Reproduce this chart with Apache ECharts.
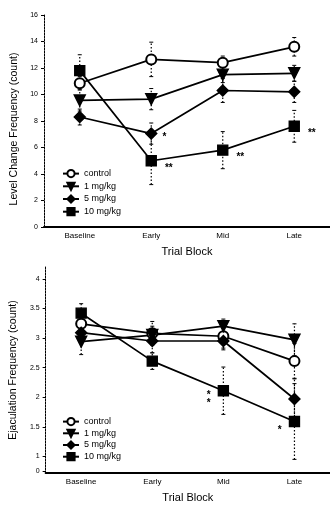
<!DOCTYPE html>
<html>
<head>
<meta charset="utf-8">
<script src="https://cdn.jsdelivr.net/npm/echarts@6/dist/echarts.min.js"></script>
<style>
  html, body { margin: 0; padding: 0; background: #fff; }
  #main { width: 330px; height: 507px; }
</style>
</head>
<body>
<div id="main"></div>
<script>
// categories and groups
var blocks = ['Baseline', 'Early', 'Mid', 'Late'];
var groups = ['control', '1 mg/kg', '5 mg/kg', '10 mg/kg'];

// level change frequency (means, sem)
var lcControl = [10.85, 12.65, 12.4, 13.6];
var lc1mg = [9.55, 9.65, 11.5, 11.6];
var lc5mg = [8.3, 7.05, 10.3, 10.2];
var lc10mg = [11.8, 5.0, 5.8, 7.6];
var lcControlErr = [0.5, 1.3, 0.5, 0.7];
var lc1mgErr = [0.8, 0.8, 0.6, 0.6];
var lc5mgErr = [0.6, 0.8, 0.9, 0.8];
var lc10mgErr = [1.2, 1.8, 1.4, 1.2];
var lcSig5mg = ['', '*', '', ''];
var lcSig10mg = ['', '**', '**', '**'];
var lcTicks = [0, 2, 4, 6, 8, 10, 12, 14, 16];

// ejaculation frequency (means, sem)
var ejControl = [3.24, 3.08, 3.03, 2.61];
var ej1mg = [2.94, 3.05, 3.2, 2.97];
var ej5mg = [3.09, 2.95, 2.95, 1.97];
var ej10mg = [3.42, 2.61, 2.11, 1.59];
var ejControlErr = [0.15, 0.2, 0.2, 0.3];
var ej1mgErr = [0.22, 0.15, 0.12, 0.27];
var ej5mgErr = [0.15, 0.2, 0.15, 0.35];
var ej10mgErr = [0.16, 0.14, 0.4, 0.64];
var ejSig10mg = ['', '', '*\n*', '*'];
var ejTicks = [0.75, 1, 1.5, 2, 2.5, 3, 3.5, 4];
var ejTickText = ['0', '1', '1.5', '2', '2.5', '3', '3.5', '4'];

var font = 'Liberation Sans';
var symbols = ['emptyCircle', 'path://M0,0 L10,0 L5,10 Z', 'diamond', 'rect'];
var symbolSizes = [10, 11, 11, 10];

function lineSeries(name, idx, values, sig, sigPos, sigOffset, gi) {
  return {
    name: name,
    type: 'line',
    xAxisIndex: gi,
    yAxisIndex: gi,
    symbol: symbols[idx],
    symbolSize: symbolSizes[idx],
    z: 3,
    itemStyle: { color: '#000', borderColor: '#000', borderWidth: 1.4 },
    lineStyle: { color: '#000', width: 1.7 },
    data: values.map(function (v, i) {
      var s = sig ? sig[i] : '';
      return {
        value: v,
        label: {
          show: !!s,
          formatter: s,
          position: sigPos,
          offset: sigOffset,
          color: '#000',
          fontSize: 10,
          fontWeight: 'bold',
          lineHeight: 8
        }
      };
    })
  };
}

function errSeries(values, errs, gi) {
  return {
    type: 'custom',
    xAxisIndex: gi,
    yAxisIndex: gi,
    z: 2,
    silent: true,
    data: values.map(function (v, i) { return [i, v - errs[i], v + errs[i]]; }),
    renderItem: function (params, api) {
      var lo = api.coord([api.value(0), api.value(1)]);
      var hi = api.coord([api.value(0), api.value(2)]);
      var st = { stroke: '#000', lineWidth: 1 };
      return {
        type: 'group',
        children: [
          { type: 'line', shape: { x1: lo[0], y1: lo[1], x2: hi[0], y2: hi[1] },
            style: { stroke: '#000', lineWidth: 1.2, lineDash: [1.5, 2] } },
          { type: 'line', shape: { x1: hi[0] - 2, y1: hi[1], x2: hi[0] + 2, y2: hi[1] }, style: st },
          { type: 'line', shape: { x1: lo[0] - 2, y1: lo[1], x2: lo[0] + 2, y2: lo[1] }, style: st }
        ]
      };
    }
  };
}

var xAxisBase = {
  type: 'category',
  data: blocks,
  boundaryGap: true,
  name: 'Trial Block',
  nameLocation: 'middle',
  nameGap: 19,
  nameTextStyle: { fontFamily: font, fontSize: 11, color: '#000' },
  axisLine: { lineStyle: { color: '#000', width: 2 } },
  axisTick: { show: false },
  axisLabel: { fontFamily: font, fontSize: 8, color: '#000', margin: 5 }
};

var legendBase = {
  data: groups, orient: 'vertical', left: 57,
  itemWidth: 16, itemHeight: 9,
  textStyle: { fontFamily: font, fontSize: 9, color: '#000' }
};

var chart = echarts.init(document.getElementById('main'));
chart.setOption({
  animation: false,
  backgroundColor: '#fff',
  grid: [
    { left: 44, right: -3, top: 15, height: 212 },
    { left: 44, right: -3, top: 267, height: 206 }
  ],
  legend: [
    Object.assign({ top: 164, itemGap: 3.5 }, legendBase),
    Object.assign({ top: 412, itemGap: 2.5 }, legendBase)
  ],
  xAxis: [
    Object.assign({ gridIndex: 0 }, xAxisBase),
    Object.assign({ gridIndex: 1 }, xAxisBase)
  ],
  yAxis: [
    {
      gridIndex: 0, type: 'value', min: 0, max: 16, interval: 2,
      name: 'Level Change Frequency (count)',
      nameLocation: 'middle', nameGap: 24,
      nameTextStyle: { fontFamily: font, fontSize: 10.5, color: '#000', padding: [0, 16, 0, 0] },
      axisLine: { show: true, lineStyle: { color: '#000', width: 1, type: [2, 1] } },
      axisTick: { show: true, length: 3, lineStyle: { color: '#000' } },
      splitLine: { show: false },
      axisLabel: { fontFamily: font, fontSize: 7, color: '#000', margin: 6,
        customValues: lcTicks }
    },
    {
      gridIndex: 1, type: 'value', min: 0.72, max: 4.2,
      name: 'Ejaculation Frequency (count)',
      nameLocation: 'middle', nameGap: 24,
      nameTextStyle: { fontFamily: font, fontSize: 10.5, color: '#000' },
      axisLine: { show: true, lineStyle: { color: '#000', width: 1, type: [2, 1] } },
      axisTick: { show: true, length: 3, lineStyle: { color: '#000' }, customValues: ejTicks },
      splitLine: { show: false },
      axisLabel: {
        fontFamily: font, fontSize: 7, color: '#000', margin: 6,
        showMinLabel: true, hideOverlap: false,
        customValues: ejTicks,
        formatter: function (v) {
          var i = ejTicks.indexOf(v);
          return i >= 0 ? ejTickText[i] : '';
        }
      }
    }
  ],
  series: [
    errSeries(lcControl, lcControlErr, 0),
    errSeries(lc1mg, lc1mgErr, 0),
    errSeries(lc5mg, lc5mgErr, 0),
    errSeries(lc10mg, lc10mgErr, 0),
    lineSeries(groups[0], 0, lcControl, null, 'right', [0, 0], 0),
    lineSeries(groups[1], 1, lc1mg, null, 'right', [0, 0], 0),
    lineSeries(groups[2], 2, lc5mg, lcSig5mg, 'right', [0, 4], 0),
    lineSeries(groups[3], 3, lc10mg, lcSig10mg, 'right', [3, 7], 0),
    errSeries(ejControl, ejControlErr, 1),
    errSeries(ej1mg, ej1mgErr, 1),
    errSeries(ej5mg, ej5mgErr, 1),
    errSeries(ej10mg, ej10mgErr, 1),
    lineSeries(groups[0], 0, ejControl, null, 'left', [0, 0], 1),
    lineSeries(groups[1], 1, ej1mg, null, 'left', [0, 0], 1),
    lineSeries(groups[2], 2, ej5mg, null, 'left', [0, 0], 1),
    lineSeries(groups[3], 3, ej10mg, ejSig10mg, 'left', [-2, 9], 1)
  ]
});
</script>
</body>
</html>
